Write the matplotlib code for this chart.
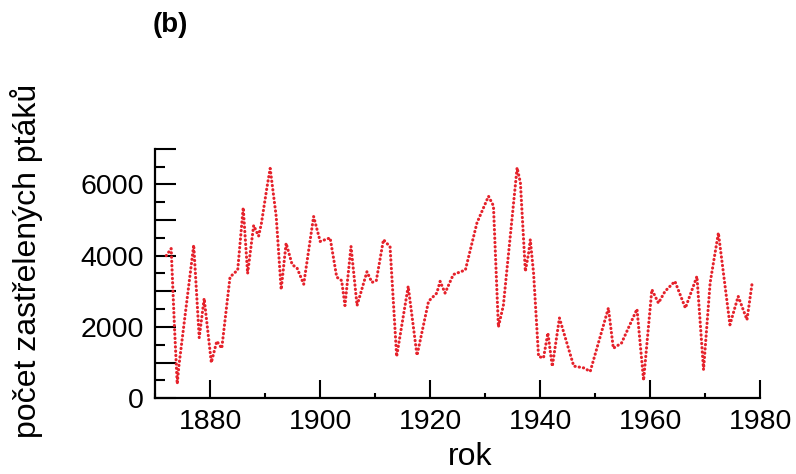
import matplotlib
matplotlib.use("Agg")
import matplotlib.pyplot as plt
from matplotlib.ticker import MultipleLocator, FuncFormatter

plt.rcParams['font.family'] = ['Liberation Sans', 'DejaVu Sans']

# Odečtené hodnoty (rok, počet zastřelených ptáků)
roky = [1872.0, 1872.9, 1873.5, 1874.0, 1874.3, 1877.0, 1878.0, 1878.9, 1880.2, 1881.2,
        1882.1, 1883.6, 1885.0, 1886.0, 1886.8, 1887.9, 1888.8, 1889.3, 1890.3, 1890.9,
        1892.0, 1892.9, 1893.8, 1894.9, 1895.8, 1897.0, 1898.8, 1900.0, 1901.8, 1903.0,
        1903.9, 1904.5, 1905.6, 1906.7, 1908.5, 1909.4, 1910.2, 1911.5, 1912.7, 1913.9,
        1916.0, 1917.6, 1919.7, 1921.2, 1921.8, 1922.7, 1924.2, 1926.4, 1928.5, 1930.6,
        1931.5, 1932.4, 1933.3, 1935.8, 1936.4, 1937.3, 1937.9, 1938.2, 1938.8, 1939.7,
        1940.6, 1941.4, 1942.2, 1943.5, 1946.1, 1947.9, 1949.1, 1952.4, 1953.3, 1954.8,
        1957.6, 1958.8, 1960.3, 1961.5, 1962.7, 1964.5, 1966.4, 1968.5, 1969.7, 1970.9,
        1972.4, 1974.5, 1976.0, 1977.6, 1978.5]
pocty = [4000, 4200, 2000, 400, 900, 4300, 1700, 2800, 1000, 1600,
         1400, 3400, 3600, 5350, 3500, 4850, 4550, 4900, 5900, 6450,
         5100, 3050, 4350, 3750, 3650, 3200, 5100, 4400, 4500, 3400,
         3300, 2600, 4260, 2600, 3550, 3250, 3300, 4450, 4250, 1170,
         3140, 1200, 2720, 2950, 3280, 2950, 3470, 3600, 4920, 5670,
         5400, 2000, 2600, 6470, 6050, 3560, 4080, 4450, 3500, 1170,
         1130, 1830, 890, 2250, 900, 850, 750, 2530, 1400, 1550,
         2500, 500, 3050, 2670, 3000, 3280, 2530, 3420, 800, 3240,
         4640, 2060, 2860, 2200, 3190]

fig = plt.figure(figsize=(7.96, 4.74), dpi=100)
ax = fig.add_axes([0.195, 0.160, 0.760, 0.526])

ax.plot(roky, pocty, color='#e5222b', linewidth=2.2,
        linestyle=(0, (0.1, 1.3)), dash_capstyle='round')

ax.set_xlim(1870, 1980)
ax.set_ylim(0, 7000)

ax.spines['top'].set_visible(False)
ax.spines['right'].set_visible(False)
ax.spines['left'].set_linewidth(1.6)
ax.spines['bottom'].set_linewidth(1.6)

ax.xaxis.set_major_locator(MultipleLocator(20))
ax.xaxis.set_minor_locator(MultipleLocator(10))
ax.yaxis.set_major_locator(MultipleLocator(1000))
ax.yaxis.set_minor_locator(MultipleLocator(500))
ax.yaxis.set_major_formatter(FuncFormatter(lambda v, p: f'{int(v)}' if int(v) % 2000 == 0 else ''))

ax.tick_params(axis='x', which='major', direction='in', length=13, width=1.5, labelsize=20.5, pad=8)
ax.tick_params(axis='x', which='minor', direction='in', length=3.5, width=1.5)
ax.tick_params(axis='y', which='major', direction='in', length=15, width=1.5, labelsize=20.5, pad=8)
ax.tick_params(axis='y', which='minor', direction='in', length=7, width=1.5)

ax.set_xlabel('rok', fontsize=23)
ax.xaxis.set_label_coords(0.52, -0.175)
ax.set_ylabel('počet zastřelených ptáků', fontsize=23)
ax.yaxis.set_label_coords(-0.185, 0.55)

fig.text(0.214, 0.947, '(b)', fontsize=20, fontweight='bold', ha='center', va='center')

fig.savefig('out.png', dpi=100)
